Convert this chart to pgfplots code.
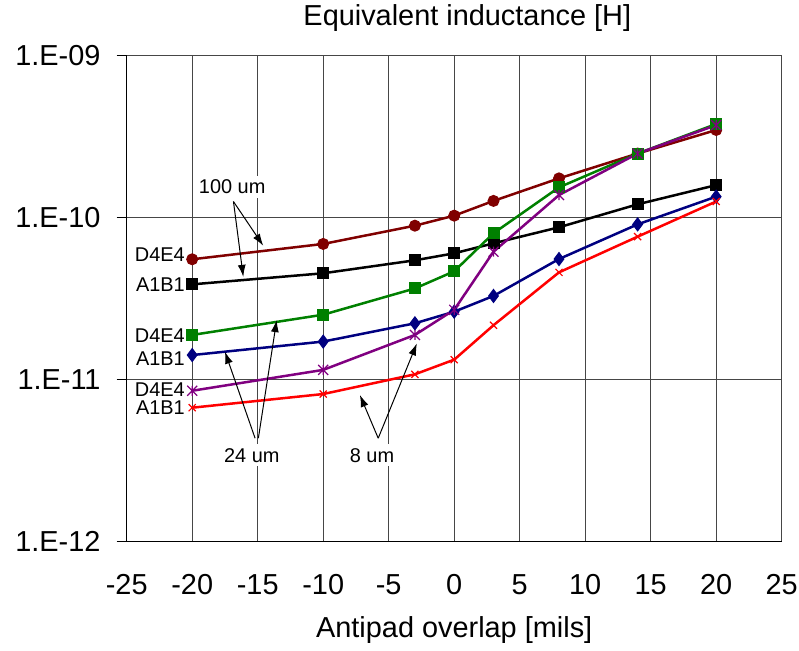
\documentclass[border=0pt]{standalone}
\usepackage{fontspec}
\setmainfont{Liberation Sans}
\usepackage{pgfplots}
\pgfplotsset{compat=1.18}
\usetikzlibrary{arrows.meta}
\definecolor{cdred}{RGB}{128,0,0}
\definecolor{cgreen}{RGB}{0,128,0}
\definecolor{cnavy}{RGB}{0,0,128}
\definecolor{cpurple}{RGB}{128,0,128}
\definecolor{cred}{RGB}{255,0,0}
\definecolor{cgrid}{RGB}{70,70,70}
\pgfdeclareplotmark{xstar}{%
  \pgfpathmoveto{\pgfqpoint{-\pgfplotmarksize}{-\pgfplotmarksize}}%
  \pgfpathlineto{\pgfqpoint{\pgfplotmarksize}{\pgfplotmarksize}}%
  \pgfpathmoveto{\pgfqpoint{-\pgfplotmarksize}{\pgfplotmarksize}}%
  \pgfpathlineto{\pgfqpoint{\pgfplotmarksize}{-\pgfplotmarksize}}%
  \pgfpathmoveto{\pgfqpoint{0pt}{-\pgfplotmarksize}}%
  \pgfpathlineto{\pgfqpoint{0pt}{\pgfplotmarksize}}%
  \pgfusepathqstroke}
\begin{document}
\begin{tikzpicture}
\path[use as bounding box] (-126.7bp,-109.3bp) rectangle (672.3bp,541.7bp);
\begin{axis}[
 at={(0,0)}, anchor=south west, scale only axis, width=655bp, height=486bp,
 xmin=-25, xmax=25, ymode=log, ymin=1e-12, ymax=1e-9,
 xtick={-25,-20,...,25}, xticklabels={-25,-20,-15,-10,-5,0,5,10,15,20,25},
 ytick={1e-12,1e-11,1e-10,1e-9}, yticklabels={1.E-12,1.E-11,1.E-10,1.E-09},
 yminorticks=false,
 grid=major, major grid style={cgrid, line width=1.2bp},
 axis lines=left, axis line style={-, black, line width=1.3bp},
 x tick style={draw=none}, y tick style={black, line width=1.3bp},
 tick align=outside, major tick length=10bp,
 tick label style={font=\fontsize{29}{34}\selectfont},
 xticklabel style={anchor=center, yshift=-33bp},
 yticklabel style={anchor=east, inner sep=0pt, xshift=-16bp},
 clip=false,
 every axis plot/.append style={line width=2.5bp},
]
\addplot[cdred, mark=*, mark size=5.5bp, mark options={solid, line width=1bp}] coordinates {(-20,5.54e-11) (-10,6.89e-11) (-3,8.93e-11) (0,1.03e-10) (3,1.27e-10) (8,1.75e-10) (14,2.49e-10) (20,3.48e-10)};
\addplot[black, mark=square*, mark size=5.5bp, mark options={solid, line width=1bp}] coordinates {(-20,3.88e-11) (-10,4.54e-11) (-3,5.46e-11) (0,6.03e-11) (3,6.95e-11) (8,8.73e-11) (14,1.21e-10) (20,1.59e-10)};
\addplot[cgreen, mark=square*, mark size=5.5bp, mark options={solid, line width=1bp}] coordinates {(-20,1.89e-11) (-10,2.52e-11) (-3,3.66e-11) (0,4.67e-11) (3,8.02e-11) (8,1.54e-10) (14,2.49e-10) (20,3.79e-10)};
\addplot[cnavy, mark=diamond*, mark size=6.5bp, mark options={solid, line width=1bp}] coordinates {(-20,1.42e-11) (-10,1.72e-11) (-3,2.23e-11) (0,2.63e-11) (3,3.29e-11) (8,5.56e-11) (14,9.10e-11) (20,1.35e-10)};
\addplot[cpurple, mark=xstar, mark size=5bp, mark options={solid, line width=1.2bp}] coordinates {(-20,8.55e-12) (-10,1.15e-11) (-3,1.89e-11) (0,2.70e-11) (3,6.17e-11) (8,1.38e-10) (14,2.49e-10) (20,3.73e-10)};
\addplot[cred, mark=x, mark size=5bp, mark options={solid, line width=1.2bp}] coordinates {(-20,6.72e-12) (-10,8.16e-12) (-3,1.08e-11) (0,1.33e-11) (3,2.17e-11) (8,4.60e-11) (14,7.64e-11) (20,1.26e-10)};

\node[font=\fontsize{29}{34}\selectfont] at (rel axis cs:0.52,1) [yshift=37.7bp] {Equivalent inductance [H]};
\node[font=\fontsize{29}{34}\selectfont] at (rel axis cs:0.5,0) [yshift=-88bp] {Antipad overlap [mils]};

\begin{scope}[font=\fontsize{20}{24}\selectfont]
\node[anchor=east, inner sep=1bp] at (rel axis cs:0.0905,0.590) {D4E4};
\node[anchor=east, inner sep=1bp] at (rel axis cs:0.0905,0.530) {A1B1};
\node[anchor=east, inner sep=1bp] at (rel axis cs:0.0905,0.425) {D4E4};
\node[anchor=east, inner sep=1bp] at (rel axis cs:0.0905,0.376) {A1B1};
\node[anchor=east, inner sep=1bp] at (rel axis cs:0.0905,0.312) {D4E4};
\node[anchor=east, inner sep=1bp] at (rel axis cs:0.0905,0.275) {A1B1};

\draw[line width=1bp, -{Latex[length=12bp,width=8bp]}] (rel axis cs:0.163,0.700) -- (rel axis cs:0.2085,0.609);
\draw[line width=1bp, -{Latex[length=12bp,width=8bp]}] (rel axis cs:0.163,0.700) -- (rel axis cs:0.178,0.545);
\draw[line width=1bp, -{Latex[length=12bp,width=8bp]}] (rel axis cs:0.196,0.213) -- (rel axis cs:0.150,0.391);
\draw[line width=1bp, -{Latex[length=12bp,width=8bp]}] (rel axis cs:0.201,0.213) -- (rel axis cs:0.229,0.456);
\draw[line width=1bp, -{Latex[length=12bp,width=8bp]}] (rel axis cs:0.384,0.213) -- (rel axis cs:0.356,0.302);
\draw[line width=1bp, -{Latex[length=12bp,width=8bp]}] (rel axis cs:0.384,0.213) -- (rel axis cs:0.443,0.408);

\node[fill=white, inner sep=4bp] at (rel axis cs:0.161,0.730) {100 um};
\node[fill=white, inner sep=4bp] at (rel axis cs:0.191,0.178) {24 um};
\node[fill=white, inner sep=4bp] at (rel axis cs:0.3745,0.178) {8 um};
\end{scope}
\end{axis}
\end{tikzpicture}
\end{document}
